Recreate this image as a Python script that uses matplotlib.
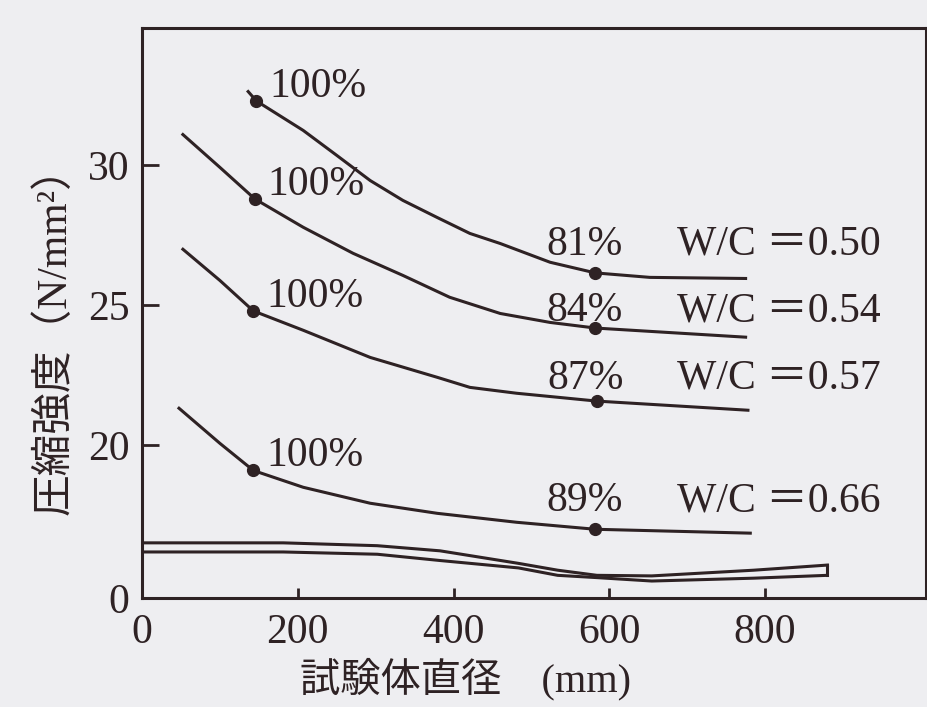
import numpy as np
import matplotlib
matplotlib.use("Agg")
import matplotlib.pyplot as plt

# 試験体直径 150mm級 / 600mm級 の圧縮強度と強度比
wc_labels = ["0.50", "0.54", "0.57", "0.66"]
diam_small = [147, 145, 143, 143]
diam_large = [582, 582, 584, 582]
strength_small = [32.3, 28.8, 24.8, 19.1]
ratio_pct = [81, 84, 87, 89]

# 各W/Cの曲線 (直径 mm, 強度 N/mm2)
curve_x = [
    [135, 147, 207, 250, 293, 335, 379, 421, 460, 524, 582, 652, 777],
    [51, 100, 145, 207, 271, 335, 395, 460, 524, 582, 777],
    [51, 100, 143, 207, 293, 379, 421, 481, 584, 780],
    [46, 100, 143, 207, 293, 379, 481, 582, 783],
]
curve_y = [
    [32.68, 32.3, 31.25, 30.36, 29.46, 28.75, 28.14, 27.57, 27.21, 26.54, 26.16, 26.0, 25.96],
    [31.14, 29.93, 28.8, 27.79, 26.86, 26.07, 25.29, 24.71, 24.39, 24.19, 23.86],
    [27.04, 25.89, 24.8, 24.11, 23.14, 22.43, 22.07, 21.86, 21.58, 21.25],
    [21.36, 20.07, 19.1, 18.5, 17.93, 17.57, 17.25, 17.0, 16.86],
]

# 省略線 (軸の 0 ~ 16 付近を詰めた部分), 軸座標
brk_x = [0.0, 0.18, 0.30, 0.38, 0.48, 0.53, 0.58, 0.65, 0.78, 0.874]
brk_top = [0.097, 0.097, 0.092, 0.083, 0.061, 0.049, 0.040, 0.039, 0.049, 0.058]
brk_bot = [0.081, 0.081, 0.077, 0.066, 0.053, 0.040, 0.036, 0.030, 0.035, 0.040]

ink = "#2e2224"
paper = "#eeeef1"
B = 16.5      # これより上は等間隔
Y0 = 14.54    # 0 の表示位置


def fwd(y):
    y = np.asarray(y, dtype=float)
    return np.where(y >= B, y, Y0 + y * (B - Y0) / B)


def inv(d):
    d = np.asarray(d, dtype=float)
    return np.where(d >= B, d, (d - Y0) * B / (B - Y0))


plt.rcParams["font.family"] = ["Liberation Serif", "Noto Sans CJK JP"]

fig = plt.figure(figsize=(9.27, 7.07), dpi=100, facecolor=paper)
ax = fig.add_axes([0.1532, 0.154, 0.846, 0.806], facecolor=paper)
ax.set_yscale("function", functions=(fwd, inv))
ax.set_xlim(0, 1007)
ax.set_ylim(0, 34.9)

label_dy = [13, 5, 9, 13]
for i in range(len(wc_labels)):
    ax.plot(curve_x[i], curve_y[i], color=ink, lw=2.2, solid_capstyle="butt",
            solid_joinstyle="round")
    y_large = strength_small[i] * ratio_pct[i] / 100
    ax.plot([diam_small[i], diam_large[i]], [strength_small[i], y_large],
            "o", color=ink, ms=8.5, ls="none")
    ax.annotate("100%", (diam_small[i], strength_small[i]), xytext=(9, 3),
                textcoords="offset points", ha="left", va="baseline",
                fontsize=30, color=ink)
    ax.annotate(f"{ratio_pct[i]}%", (diam_large[i], y_large),
                xytext=(-8, label_dy[i]), textcoords="offset points",
                ha="center", va="baseline", fontsize=30, color=ink)
    ax.annotate("W/C ＝" + wc_labels[i], (687, y_large), xytext=(0, label_dy[i]),
                textcoords="offset points", ha="left", va="baseline",
                fontsize=30, color=ink)

ax.plot(brk_x, brk_top, color=ink, lw=2.2, transform=ax.transAxes)
ax.plot(brk_x, brk_bot, color=ink, lw=2.2, transform=ax.transAxes)
ax.plot([brk_x[-1], brk_x[-1]], [brk_bot[-1], brk_top[-1]], color=ink, lw=2.2,
        transform=ax.transAxes)

ax.set_xticks([0, 200, 400, 600, 800])
ax.set_yticks([0, 20, 25, 30])
ax.tick_params(axis="x", direction="in", length=7, width=2, pad=11,
               labelsize=30, colors=ink)
ax.tick_params(axis="y", direction="in", length=12, width=2, pad=9,
               labelsize=30, colors=ink)
for s in ax.spines.values():
    s.set_linewidth(2.2)
    s.set_color(ink)

fig.text(0.059, 0.533, "圧縮強度（N/mm²）", rotation=90, ha="center",
         va="center", fontsize=30, color=ink)
fig.text(0.502, 0.039, "試験体直径　(mm)", ha="center", va="center",
         fontsize=29, color=ink)

fig.savefig("out.png", dpi=100, facecolor=paper)
